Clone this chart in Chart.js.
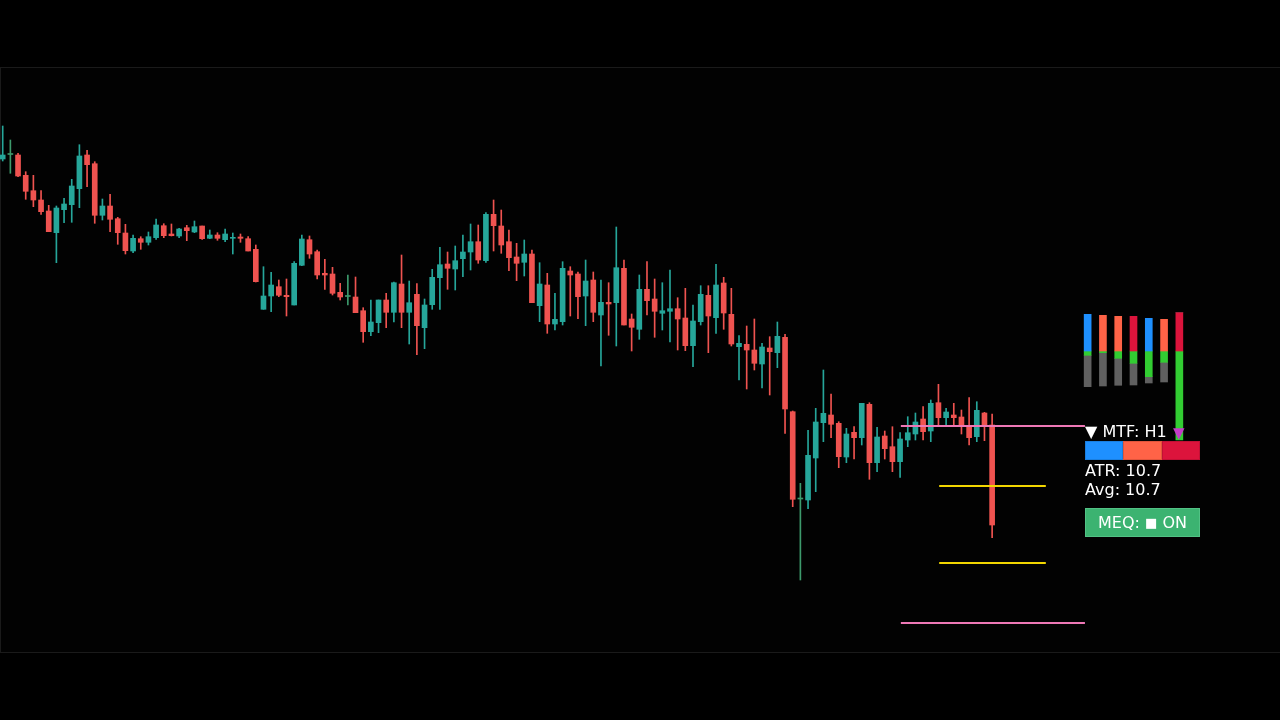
<!DOCTYPE html>
<html>
<head>
<meta charset="utf-8">
<script src="https://cdn.jsdelivr.net/npm/chart.js@4.4.1/dist/chart.umd.min.js"></script>
<style>
html,body{margin:0;padding:0;background:#000;width:1280px;height:720px;overflow:hidden;font-family:"DejaVu Sans",Verdana,sans-serif;}
#frame{position:absolute;left:0;top:67px;width:1279px;height:584px;border:1px solid #1a1a1a;border-right:none;background:#020202;}
#main{position:absolute;left:0;top:0;}
#mini{position:absolute;left:1080px;top:300px;}
.txt{position:absolute;color:#fff;font-size:16px;line-height:16px;white-space:nowrap;}
#tri{position:absolute;left:1085px;top:441px;width:115px;height:19px;display:flex;}
#tri div{flex:1;box-sizing:border-box;}
#meq{position:absolute;left:1085px;top:508px;width:115px;height:29px;box-sizing:border-box;background:#3cb371;border:1px solid #52c285;color:#fff;font-size:16px;line-height:27px;text-align:center;white-space:nowrap;}
#meq span{font-size:13px;vertical-align:1px;}
</style>
</head>
<body>
<div id="frame"></div>
<canvas id="main" width="1280" height="720"></canvas>
<canvas id="mini" width="107" height="150"></canvas>
<div class="txt" style="left:1085px;top:424px;">▼ MTF: H1</div>
<div class="txt" style="left:1173px;top:425px;font-size:15px;color:#c43cc8;">▼</div>
<div id="tri"><div style="background:#1e90ff;border:1px solid #1a7fe0;"></div><div style="background:#ff6347;border:1px solid #e0553c;"></div><div style="background:#dc143c;border:1px solid #c21035;"></div></div>
<div class="txt" style="left:1085px;top:463px;">ATR: 10.7</div>
<div class="txt" style="left:1085px;top:482px;">Avg: 10.7</div>
<div id="meq">MEQ: <span>■</span> ON</div>
<script>
// ---- Candle data (H1) ----
const OPEN = [
 1841,1845.5,1845,1824.7,1809.3,1800,1789,1767.3,1790.3,1795.3,
 1811.3,1845,1836.3,1784.7,1794,1781.3,1767,1749,1761.3,1757.7,
 1762.3,1774.3,1766,1764,1772.3,1768,1774,1761.7,1765,1760.3,
 1761.7,1763,1761.3,1750.7,1690.7,1704,1713.3,1704.7,1695,1734.7,
 1760.3,1748.3,1726.7,1726,1707.7,1703.5,1703,1689.3,1668.3,1677.3,
 1700,1687.7,1716,1687.7,1705.7,1672.3,1695.3,1722.3,1736,1731,
 1741.3,1748,1758.3,1739.3,1785.7,1774,1758.3,1743,1737.7,1746,
 1694.3,1715,1676,1678.3,1729,1726,1704,1720,1685,1697.7,
 1697.3,1731.7,1681,1670.7,1710.7,1701,1686.7,1688.7,1691.3,1682,
 1654.3,1678.3,1704.7,1682.3,1717,1685.7,1653.3,1655.7,1650,1636,
 1652,1647.3,1662.7,1588.3,1501,1500,1542,1577.3,1585,1576.7,
 1543,1567.7,1562.3,1595.7,1537.3,1564,1553.3,1538.3,1560,1566,
 1581,1569,1597.3,1582.3,1585,1583,1574,1563.3,1587,1575
];
const HIGH = [
 1874,1860,1846.7,1828.3,1824.7,1809.3,1794.7,1794,1801.7,1820.7,
 1855.3,1849.7,1838.3,1801,1805.7,1782.7,1775.7,1765,1763.3,1768,
 1781,1776.3,1776,1771.7,1774.7,1779,1774,1770,1767.3,1771,
 1767,1766,1763.3,1755,1733.3,1727.7,1720,1721,1738.3,1765,
 1764,1750,1740.7,1732.7,1716.7,1725,1723,1692.3,1700,1700,
 1706.7,1718,1745,1719,1716.3,1701,1730.7,1752.7,1748,1754,
 1765,1776,1775,1787.3,1800,1790,1770,1756.7,1760,1750,
 1737.3,1726.7,1706.7,1738.3,1733.3,1728,1740,1728,1720,1717.3,
 1773,1740,1686,1725,1738.3,1721,1717.3,1730,1702.3,1711.7,
 1695,1714.3,1714.3,1735.7,1722.7,1711.7,1664.3,1674,1681,1656.7,
 1663.3,1678,1665.7,1589,1516.7,1569.7,1591.7,1630,1606,1578.3,
 1571.7,1573.3,1596.7,1597.3,1572.7,1569,1573.3,1567.3,1583.3,1587,
 1593.3,1600,1615.7,1591.7,1596.7,1590,1602.3,1598.3,1587.7,1586
];
const LOW = [
 1839,1826.7,1823.3,1800.7,1793.3,1785.7,1768.3,1737.3,1777.3,1777.7,
 1792.3,1813.3,1776.7,1780,1768.3,1755.7,1746,1747.3,1750.7,1755,
 1760.7,1762.3,1764,1762.3,1759.3,1767.3,1760.7,1761.3,1759.7,1758.3,
 1746,1757.7,1749,1718,1690.7,1688.3,1703.3,1684,1695,1734.3,
 1741.7,1721,1710.7,1705,1700,1695,1687.3,1657.7,1664.3,1667.3,
 1672.3,1678,1672.3,1656,1645.3,1651.3,1690.7,1690.7,1710.7,1710,
 1723.3,1730,1736.7,1737.7,1749,1746.7,1729.3,1719.3,1724,1697.3,
 1678.3,1666.7,1670,1675,1684,1681.3,1674.3,1678.3,1634,1664.7,
 1654,1675,1649,1660.7,1685,1662.7,1670,1658,1650,1649.3,
 1633.3,1675,1647.3,1666.7,1670.7,1654,1620,1611,1630,1612,
 1605,1632.3,1566.7,1493.3,1420,1491.3,1508.3,1558.3,1562.3,1532.3,
 1537.3,1541,1555,1520.7,1528.3,1541,1528.3,1522.7,1553.3,1560,
 1560,1558.3,1575,1575,1575,1566,1555,1558.3,1559.3,1462.3
];
const CLOSE = [
 1845,1845.5,1824,1808.7,1800,1788.3,1768.3,1792,1796,1814,
 1844,1835.3,1784.7,1794,1780.7,1767.3,1749.3,1761.7,1757.7,1763.3,
 1775,1764.3,1764.3,1771,1769.3,1773.3,1761.3,1765,1761.7,1766,
 1762.7,1761.7,1749,1718.3,1704,1715,1704.7,1703.3,1736.7,1761,
 1746,1725,1725,1706.7,1703,1703.5,1687.3,1668.3,1678,1700,
 1687.7,1717.3,1687.7,1697.3,1674.3,1695,1722.7,1735.3,1731.7,1739.3,
 1748,1758.3,1740,1785.7,1774.3,1755,1742.3,1736.7,1746,1697.3,
 1716,1676,1680.7,1731.7,1725,1703.3,1719,1687.7,1697.7,1696,
 1732.3,1675,1672.7,1710.7,1699.3,1688.7,1689.3,1691.3,1681,1654.3,
 1679,1705.7,1684,1715,1687,1656,1656.7,1650,1636.7,1653,
 1648.3,1663.7,1591,1500.7,1501,1544.7,1578,1586.7,1575.7,1543.3,
 1566,1562.3,1596.7,1537.3,1563,1551.3,1538.3,1561,1567.3,1578,
 1568.3,1596.7,1582.3,1588,1582.3,1575,1562.3,1589.7,1575,1475
];

// ---- Level lines: [startBar, endBar, price] ----
const PINK_LEVELS = [[117.1, 141.1, 1574], [117.1, 141.1, 1377]];
const YELLOW_LEVELS = [[122.1, 136.0, 1514], [122.1, 136.0, 1437]];

// ---- Multi-timeframe strength panel ----
const MTF_LABELS = ['M1','M5','M15','M30','H1','H4','D1'];
const MTF_TOP = [36.7,35.7,34.7,34.7,32.7,31.7,38.3];
const MTF_GREEN = [-4.3,-1.7,-7.3,-12.3,-25.7,-11.3,-89];
const MTF_GRAY = [-31.4,-33.3,-27,-21.7,-6.3,-19.7,0];
const MTF_TOPCOLOR = ['#1e90ff','#ff6347','#ff6347','#dc143c','#1e90ff','#ff6347','#dc143c'];

const UP = '#26a69a', DOWN = '#ef5350', FLAT = '#3d9a6c';
const colors = OPEN.map((o, i) => CLOSE[i] > o ? UP : (CLOSE[i] < o ? DOWN : FLAT));

const wickData = OPEN.map((o, i) => ({x: i, y: [LOW[i], HIGH[i]]}));
const bodyData = OPEN.map((o, i) => ({x: i, y: [o, CLOSE[i]]}));

const levelSets = [];
PINK_LEVELS.forEach(l => levelSets.push({
  type: 'line', data: [{x: l[0], y: l[2]}, {x: l[1], y: l[2]}],
  borderColor: '#ee78b6', borderWidth: 2, pointRadius: 0, order: 0
}));
YELLOW_LEVELS.forEach(l => levelSets.push({
  type: 'line', data: [{x: l[0], y: l[2]}, {x: l[1], y: l[2]}],
  borderColor: '#f2d600', borderWidth: 2, pointRadius: 0, order: 0
}));

const pxPerBar = 7.67;
const xMin = -2.7 / pxPerBar;
const xMax = xMin + 1280 / pxPerBar;

new Chart(document.getElementById('main'), {
  type: 'bar',
  data: {
    datasets: [
      {data: wickData, backgroundColor: colors, barThickness: 1, grouped: false, order: 2},
      {data: bodyData, backgroundColor: colors, barThickness: 5, grouped: false, minBarLength: 1, order: 1},
      ...levelSets
    ]
  },
  options: {
    responsive: false, animation: false,
    layout: {padding: {top: 68, bottom: 68, left: 0, right: 0}},
    plugins: {legend: {display: false}, tooltip: {enabled: false}},
    scales: {
      x: {type: 'linear', min: xMin, max: xMax, offset: false, display: false},
      y: {type: 'linear', min: 1348, max: 1932, display: false}
    }
  }
});

new Chart(document.getElementById('mini'), {
  type: 'bar',
  data: {
    labels: MTF_LABELS,
    datasets: [
      {data: MTF_TOP, backgroundColor: MTF_TOPCOLOR, barThickness: 7},
      {data: MTF_GREEN, backgroundColor: '#32cd32', barThickness: 7},
      {data: MTF_GRAY, backgroundColor: '#606060', barThickness: 7}
    ]
  },
  options: {
    responsive: false, animation: false,
    layout: {padding: 0},
    plugins: {legend: {display: false}, tooltip: {enabled: false}},
    scales: {
      x: {stacked: true, display: false},
      y: {stacked: true, min: -99, max: 51, display: false}
    }
  }
});
</script>
</body>
</html>
